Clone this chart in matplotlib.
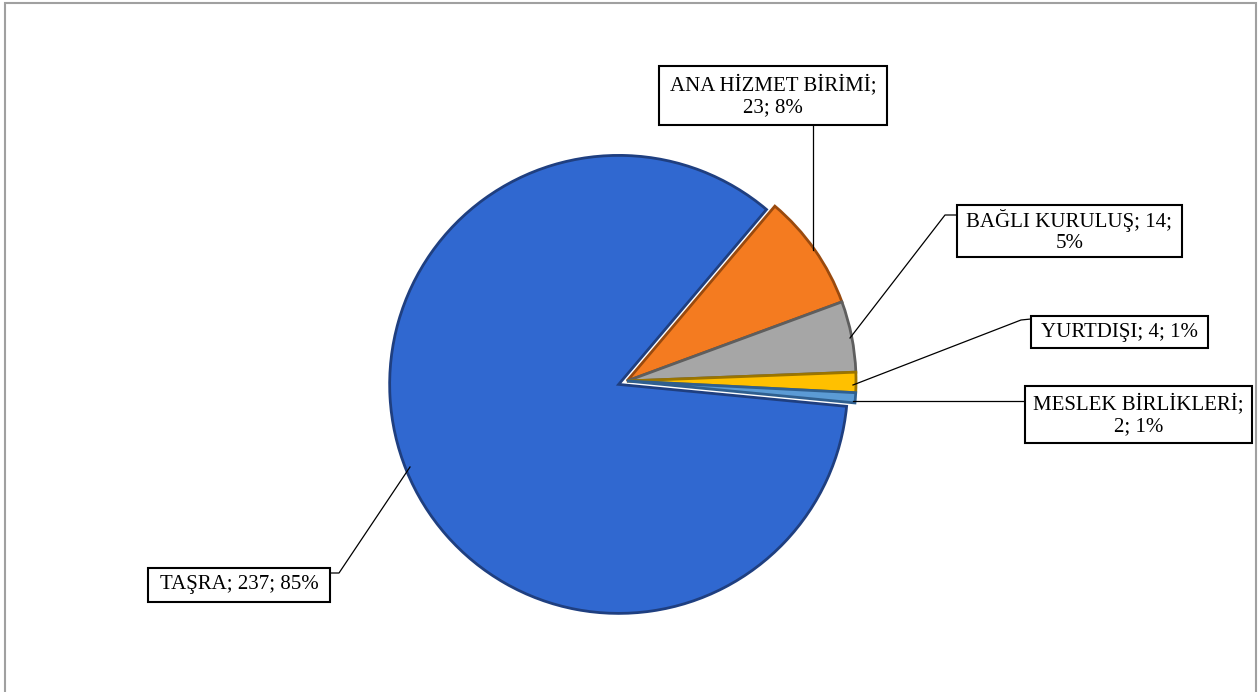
import matplotlib.pyplot as plt
from matplotlib.patches import Rectangle

# data
labels = ['TAŞRA', 'ANA HİZMET BİRİMİ', 'BAĞLI KURULUŞ', 'YURTDIŞI', 'MESLEK BİRLİKLERİ']
values = [237, 23, 14, 4, 2]
percents = ['85%', '8%', '5%', '1%', '1%']
colors = ['#3068D0', '#F47B20', '#A6A6A6', '#FFC000', '#5B9BD5']
edges = ['#1F3F80', '#9A4A0E', '#5E5E5E', '#9A7400', '#2F5F8F']

W, H = 1258, 692
fig = plt.figure(figsize=(W / 100, H / 100), dpi=100)
ax = fig.add_axes([0, 0, 1, 1])

def py(y):
    # picture rows are counted from the top
    return H - y

# explode is in data units here (axes are in pixels)
wedges, _ = ax.pie(values, colors=colors, startangle=-5.5, counterclock=False,
                   explode=[9, 0, 0, 0, 0], center=(627, py(381)), radius=229,
                   wedgeprops=dict(linewidth=2))
for w, ec in zip(wedges, edges):
    w.set_edgecolor(ec)

# pie() sets its own limits, so fix the pixel frame afterwards
ax.set_xlim(0, W)
ax.set_ylim(0, H)
ax.set_aspect('equal')
ax.axis('off')

# outer frame of the chart area
ax.add_patch(Rectangle((5, -10), 1251, py(3) + 10, fill=False,
                       edgecolor='#A0A0A0', lw=1.5))

# label boxes: (left, top, right, bottom) in picture pixels, and text lines
boxes = [
    ((148, 568, 330, 602), ['TAŞRA; 237; 85%']),
    ((659, 66, 887, 125), ['ANA HİZMET BİRİMİ;', '23; 8%']),
    ((957, 205, 1182, 257), ['BAĞLI KURULUŞ; 14;', '5%']),
    ((1031, 316, 1208, 348), ['YURTDIŞI; 4; 1%']),
    ((1025, 386, 1252, 443), ['MESLEK BİRLİKLERİ;', '2; 1%']),
]
leaders = [
    [(330, 573), (339, 573), (410, 467)],
    [(813, 125), (813, 250)],
    [(957, 215), (945, 215), (850, 338)],
    [(1031, 319), (1021, 320), (853, 385)],
    [(1025, 401), (853, 401)],
]

for i in range(len(labels)):
    (x0, y0, x1, y1), lines = boxes[i]
    ax.add_patch(Rectangle((x0, py(y1)), x1 - x0, y1 - y0, facecolor='white',
                           edgecolor='black', lw=1.5, zorder=5))
    txt = '\n'.join(lines)
    ax.text((x0 + x1) / 2, py((y0 + y1) / 2), txt, ha='center', va='center',
            family='Liberation Serif', fontsize=15, linespacing=1.2, zorder=6)
    pts = leaders[i]
    ax.plot([p[0] for p in pts], [py(p[1]) for p in pts], color='black',
            lw=0.9, zorder=4)

fig.savefig('out.png', dpi=100)
